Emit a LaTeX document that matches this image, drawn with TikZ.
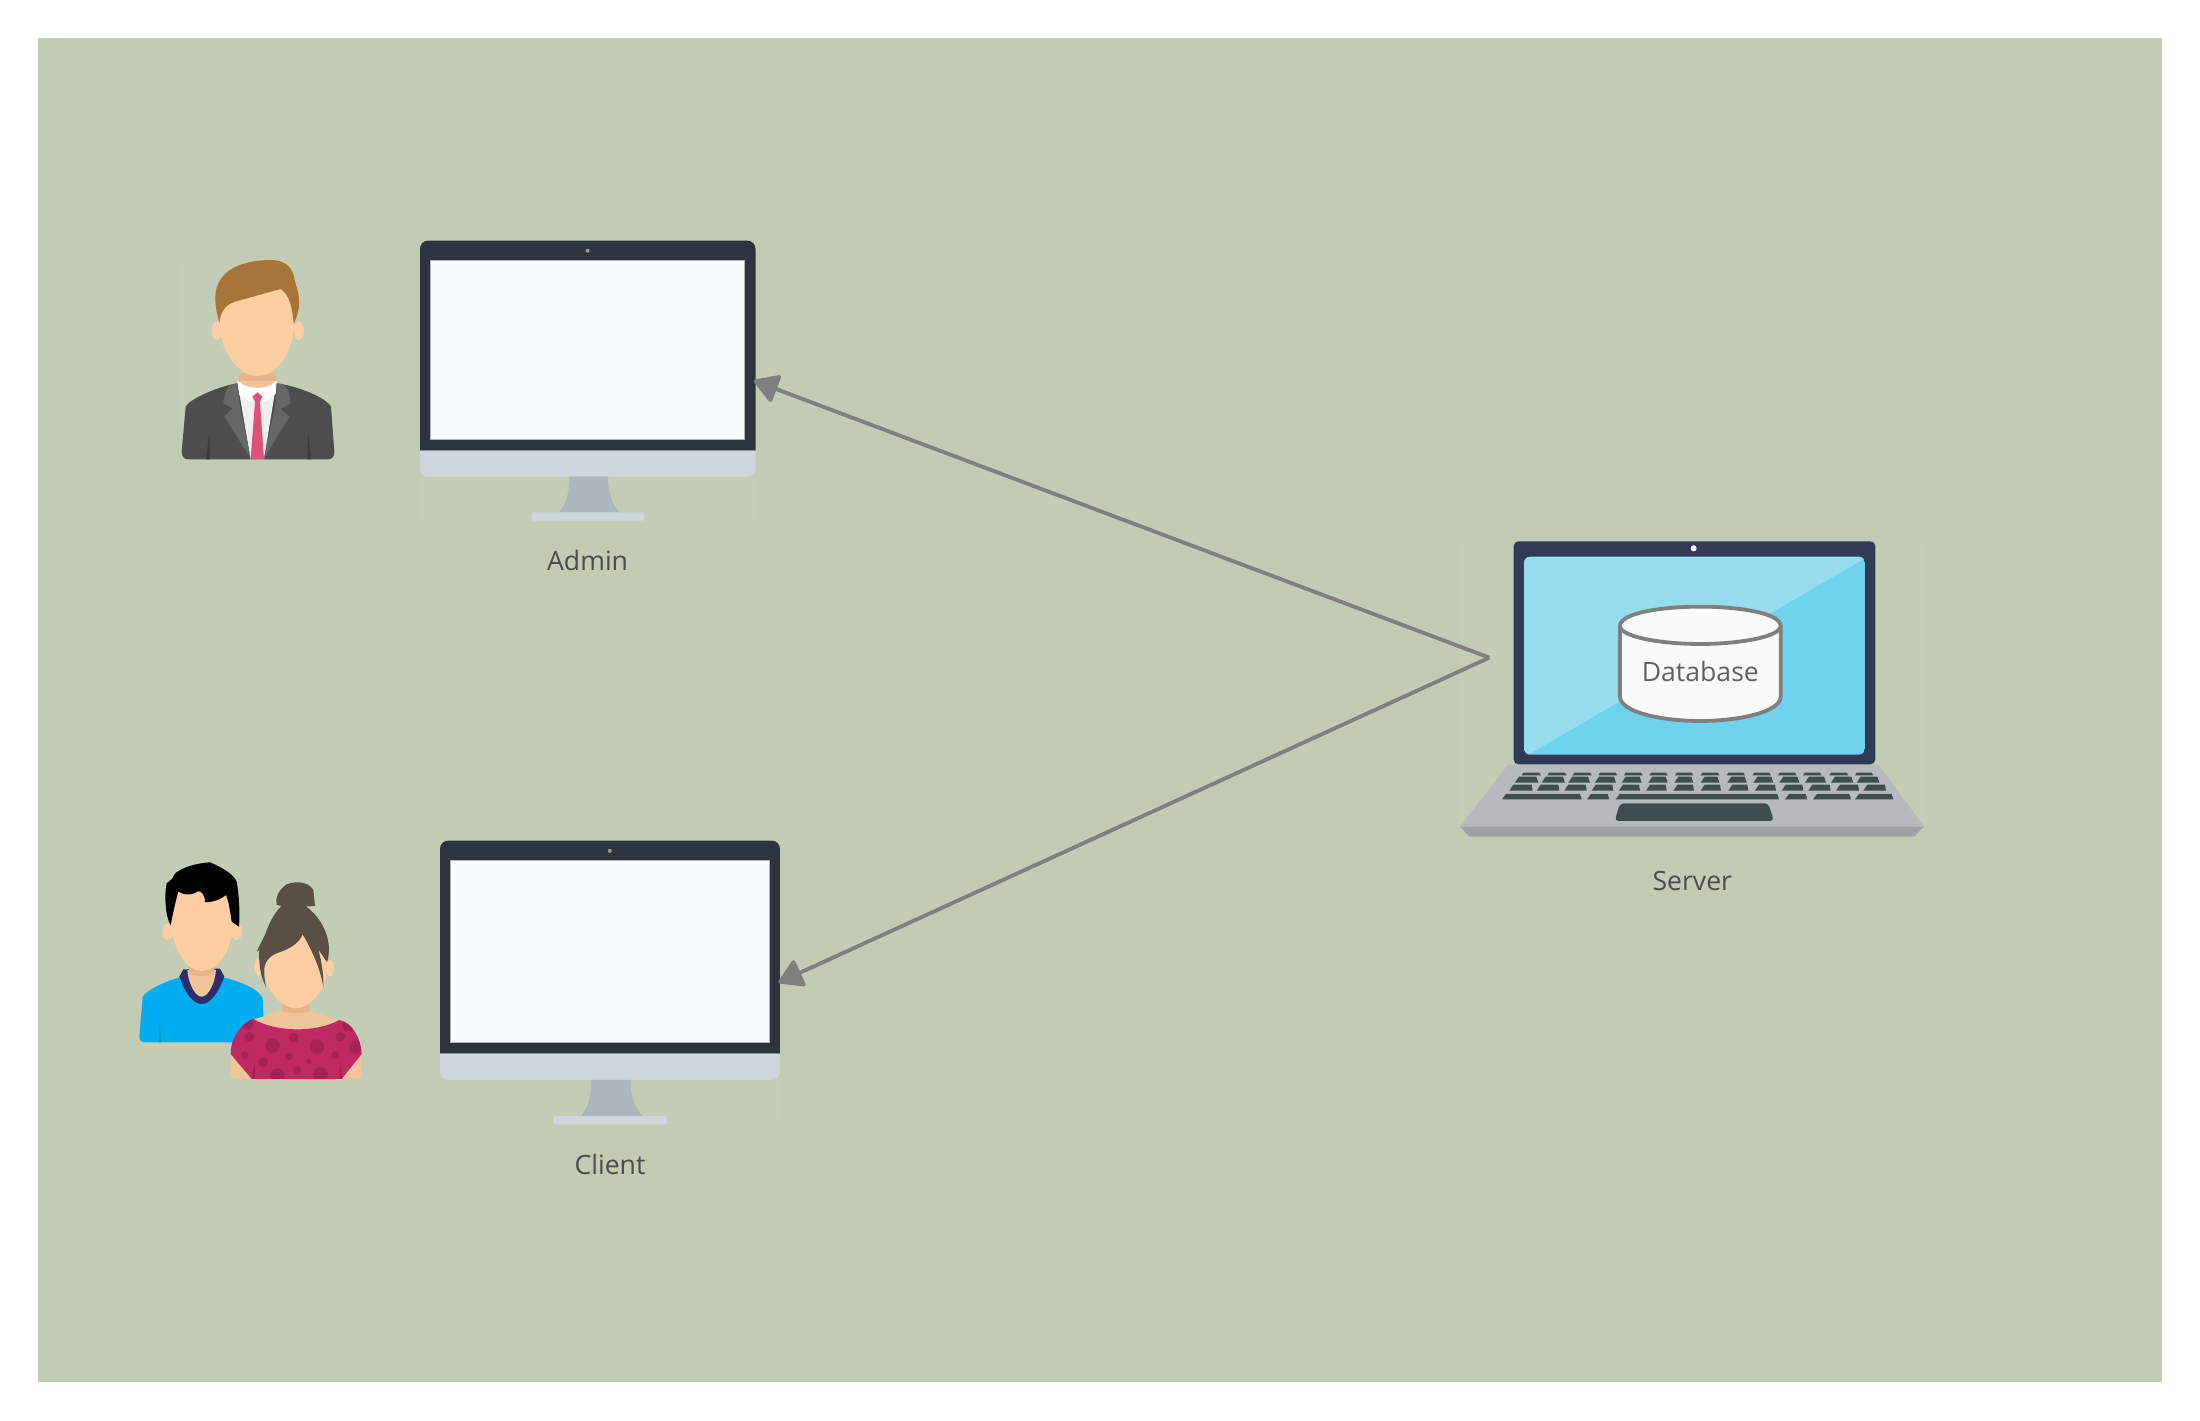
\documentclass[tikz,border=0pt]{standalone}
\usepackage{fontspec}
\setmainfont{Open Sans}
\usepackage{tikz}
\usetikzlibrary{arrows.meta}

\definecolor{panelgreen}{HTML}{C2CCB4}
\definecolor{bezel}{HTML}{2D3440}
\definecolor{chin}{HTML}{D0D6E0}
\definecolor{glass}{HTML}{F7FDFE}
\definecolor{standgrey}{HTML}{ADB5BF}
\definecolor{skin}{HTML}{FCCEA1}
\definecolor{skinshade}{HTML}{E8B487}
\definecolor{skinlow}{HTML}{F0C59A}
\definecolor{linkgrey}{HTML}{7F7F7F}
\definecolor{keycap}{HTML}{3F4C50}
\definecolor{suit}{HTML}{4D4D4D}
\definecolor{suitdark}{HTML}{3A3A3A}
\definecolor{lapel}{HTML}{666868}
\definecolor{shirt}{HTML}{ECF1EF}
\definecolor{tie}{HTML}{E0507C}
\definecolor{hairbrown}{HTML}{A7743A}
\definecolor{tee}{HTML}{00AEEF}
\definecolor{teedark}{HTML}{1A94B9}
\definecolor{collar}{HTML}{2B2F6F}
\definecolor{blouse}{HTML}{C02A63}
\definecolor{blousedot}{HTML}{A62155}
\definecolor{hairgrey}{HTML}{594F45}
\definecolor{lid}{HTML}{333B54}
\definecolor{screenlow}{HTML}{6FD3EC}
\definecolor{screenhigh}{HTML}{97DBEF}
\definecolor{deck}{HTML}{B6BABD}
\definecolor{deckedge}{HTML}{9BA3A7}

\tikzset{
    caption/.style={font=\fontsize{6.65pt}{8pt}\selectfont,text=black!70,inner sep=0pt},
    iconback/.style={white,opacity=.02},
    link/.style={draw=linkgrey,line width=.95pt,line join=round,
        -{Triangle[length=6.5pt,width=7.6pt,fill=linkgrey,round]}},
    pics/monitor/.style={code={
        \fill[iconback] (0,0) rectangle (335.5,280);
        \fill[bezel] (0,210) -- (0,8) arc[start angle=180,end angle=270,radius=8]
            -- (327.5,0) arc[start angle=270,end angle=360,radius=8] -- (335.5,210) -- cycle;
        \fill[chin] (0,210) -- (335.5,210) -- (335.5,228) arc[start angle=0,end angle=90,radius=8]
            -- (8,236) arc[start angle=90,end angle=180,radius=8] -- cycle;
        \fill[standgrey] (149.5,236) .. controls (149.5,250) and (147,262) .. (139,272)
            -- (199.6,272) .. controls (191,262) and (188,250) .. (188,236) -- cycle;
        \fill[chin,rounded corners=.6pt] (111.6,271.7) rectangle (224,280);
        \filldraw[fill=glass,draw=gray!60,line width=.15pt] (10,19.3) rectangle (324.5,198.7);
        \fill[gray!80] (167.6,10) circle (2);
        \coordinate (-east) at (334,140);
    }},
}

\begin{document}
\begin{tikzpicture}[x=.25pt,y=-.25pt]
    \useasboundingbox (0,0) rectangle (2200,1421);
    \fill[white] (0,0) rectangle (2200,1421);
    \fill[panelgreen] (38,38) rectangle (2162,1382);

    \pic (adminmon) at (420,240.7) {monitor};
    \pic (clientmon) [scale=1.0134] at (440,840.7) {monitor};
    \node[caption] (adminlabel) at (587.6,560.5) {Admin};
    \node[caption] (clientlabel) at (610,1165) {Client};

    % man in suit
    \begin{scope}[shift={(160,240)},scale=1/3]
        \fill[iconback] (60,60) rectangle (525,660);
        \fill[suit] (65,635) -- (77,500) .. controls (85,480) and (170,440) .. (232,430)
            -- (352,430) .. controls (420,440) and (500,475) .. (513,500) -- (523,635)
            .. controls (524,650) and (515,658) .. (505,658) -- (85,658)
            .. controls (72,658) and (65,650) .. (65,635) -- cycle;
        \fill[suitdark] (148,580) -- (138,658) -- (150,658) -- cycle;
        \fill[suitdark] (445,580) -- (442,658) -- (453,658) -- cycle;
        \fill[skinshade] (242,400) -- (345,400) -- (350,425) -- (232,425) -- cycle;
        \fill[shirt] (232,425) -- (272,658) -- (312,658) -- (350,425) -- cycle;
        \fill[white] (232,422) .. controls (250,445) and (335,445) .. (350,422)
            -- (347,462) -- (315,485) -- (292,468) -- (270,485) -- (238,465) -- cycle;
        \fill[skinlow] (240,425) .. controls (255,450) and (330,450) .. (343,425) -- cycle;
        \fill[lapel] (232,430) .. controls (210,432) and (197,436) .. (190,490) -- (218,505)
            -- (193,530) -- (272,655) -- (240,500) -- cycle;
        \fill[lapel] (351,430) .. controls (375,432) and (388,440) .. (392,490) -- (362,507)
            -- (388,530) -- (312,655) -- (345,500) -- cycle;
        \fill[tie] (277,470) -- (292,457) -- (307,470) -- (300,485)
            -- (312,658) -- (272,658) -- (285,485) -- cycle;
        \fill[skin] (170,272) ellipse [x radius=15,y radius=28];
        \fill[skin] (417,272) ellipse [x radius=15,y radius=28];
        \fill[skin] (178,180) -- (178,250) .. controls (180,340) and (240,408) .. (292,408)
            .. controls (350,408) and (400,340) .. (403,250) -- (403,180) -- (370,130) -- cycle;
        \fill[hairbrown] (178,248) .. controls (165,200) and (160,160) .. (175,130)
            .. controls (195,90) and (240,62) .. (330,60) .. controls (380,60) and (400,85) .. (405,125)
            .. controls (420,170) and (425,200) .. (401,252) .. controls (398,210) and (390,165) .. (362,147)
            -- (225,185) .. controls (195,195) and (182,215) .. (178,248) -- cycle;
    \end{scope}

    % couple
    \begin{scope}[shift={(130,850)},scale=1/3]
        \fill[iconback] (28,28) rectangle (695,690);
        \fill[tee] (28,560) -- (38,440) .. controls (50,420) and (110,392) .. (150,382)
            -- (280,382) .. controls (330,395) and (385,415) .. (398,445) -- (404,577)
            -- (45,577) .. controls (33,577) and (28,570) .. (28,560) -- cycle;
        \fill[teedark] (90,520) -- (85,577) -- (93,577) -- cycle;
        \fill[collar] (160,358) -- (148,380) .. controls (165,430) and (190,462) .. (215,462)
            .. controls (240,462) and (265,430) .. (283,380) -- (270,356) -- cycle;
        \fill[skinlow] (172,360) .. controls (175,400) and (195,440) .. (215,440)
            .. controls (235,440) and (255,400) .. (258,360) -- cycle;
        \fill[skinshade] (175,350) -- (255,350) -- (250,372) .. controls (235,380) and (195,380) .. (180,372) -- cycle;
        \fill[skin] (113,245) ellipse [x radius=16,y radius=25];
        \fill[skin] (320,245) ellipse [x radius=16,y radius=25];
        \fill[skin] (125,120) -- (125,240) .. controls (135,310) and (175,363) .. (215,363)
            .. controls (260,363) and (300,310) .. (308,240) -- (305,120) -- cycle;
        \fill[black] (122,225) .. controls (105,200) and (103,130) .. (110,100) -- (128,85)
            .. controls (130,60) and (190,40) .. (240,37) .. controls (270,50) and (310,70) .. (320,95)
            .. controls (328,140) and (330,190) .. (327,230) -- (305,215)
            .. controls (300,180) and (295,150) .. (288,135) .. controls (270,150) and (245,157) .. (225,157)
            .. controls (225,135) and (215,122) .. (203,124) .. controls (195,132) and (170,140) .. (145,125)
            .. controls (135,160) and (128,195) .. (122,225) -- cycle;

        \fill[skinlow,rounded corners=1.5pt] (302,590) -- (302,687) -- (695,687) -- (695,590) -- cycle;
        \fill[skinlow] (365,510) -- (455,483) -- (540,483) -- (630,512) -- (630,560) -- (365,560) -- cycle;
        \fill[skinshade] (460,462) -- (535,462) -- (540,483) .. controls (515,492) and (480,492) .. (455,483) -- cycle;
        \def\blousepath{(370,507) .. controls (440,548) and (560,548) .. (628,510)
            .. controls (665,520) and (690,555) .. (695,612) -- (635,687) -- (365,687)
            -- (302,612) .. controls (300,570) and (330,520) .. (370,507) -- cycle}
        \fill[blouse] \blousepath;
        \begin{scope}
            \clip \blousepath;
            \foreach \cx/\cy/\r in {358/560/15,428/587/22,491/563/15,561/590/22,631/560/15,344/615/12,
                399/637/15,477/619/12,616/615/12,536/634/8,501/661/12,442/677/22,572/673/22,678/592/20,
                352/522/18,655/525/18}
                \fill[blousedot] (\cx,\cy) circle (\r);
        \end{scope}
        \fill[blousedot] (375,630) -- (365,687) -- (375,687) -- cycle;
        \fill[blousedot] (630,630) -- (628,687) -- (637,687) -- cycle;
        \fill[skin] (385,352) ellipse [x radius=12,y radius=25];
        \fill[skin] (600,355) ellipse [x radius=12,y radius=25];
        \fill[skin] (403,300) -- (403,370) .. controls (410,420) and (455,475) .. (497,475)
            .. controls (540,475) and (585,420) .. (590,370) -- (590,290) -- (518,240) -- cycle;
        \fill[hairgrey] (408,412) .. controls (395,385) and (385,350) .. (388,300)
            -- (380,305) -- (405,255) .. controls (420,210) and (440,180) .. (462,160)
            -- (515,160) .. controls (560,190) and (590,230) .. (597,290)
            .. controls (597,320) and (592,340) .. (590,335) -- (565,298)
            .. controls (575,335) and (582,380) .. (580,410)
            .. controls (570,350) and (540,290) .. (518,253)
            .. controls (505,285) and (470,300) .. (440,310) .. controls (415,320) and (400,340) .. (403,370)
            .. controls (403,385) and (405,400) .. (408,412) -- cycle;
        \fill[hairgrey] (440,165) .. controls (435,145) and (445,120) .. (470,103)
            .. controls (500,92) and (535,95) .. (550,120) -- (555,167)
            .. controls (520,172) and (470,172) .. (440,165) -- cycle;
    \end{scope}

    % laptop
    \begin{scope}[shift={(1440,520)},scale=1/3]
        \fill[iconback] (60,60) rectangle (1452,955);
        \fill[deck] (205,733) -- (1315,733) -- (1452,920) -- (60,920) -- cycle;
        \fill[deckedge] (60,920) -- (1452,920) -- (1422,950) -- (88,950) -- cycle;
        \fill[lid,rounded corners=1.2pt] (221,64) rectangle (1306,733);
        \fill[white] (761,85) circle (9);
        \begin{scope}
            \clip[rounded corners=1.6pt] (252,110) rectangle (1275,704);
            \fill[screenlow] (252,110) rectangle (1275,704);
            \fill[screenhigh] (252,110) -- (1275,110) -- (1275,115) -- (265,704) -- (252,704) -- cycle;
        \end{scope}
        \foreach \a/\b in {245/303,322/380,398/455,475/532,552/608,628/683,705/760,782/838,860/915,938/993,
            1014/1070,1089/1145,1168/1225,1245/1300}
            \fill[keycap] (\a,766) -- (\a+5,758) -- (\b-5,758) -- (\b,766) -- cycle;
        \foreach \a/\b in {225/295,305/375,385/450,465/528,545/605,625/683,703/760,782/838,862/920,940/1000,
            1018/1078,1095/1158,1173/1240,1250/1318}
            \fill[keycap] (\a,788) -- (\a+12,770) -- (\b-6,770) -- (\b,788) -- cycle;
        \foreach \a/\b in {208/278,290/358,373/440,455/520,537/600,618/680,700/762,782/843,865/925,945/1008,
            1025/1090,1105/1172,1188/1257,1270/1338}
            \fill[keycap] (\a,812) -- (\a+12,794) -- (\b-3,794) -- (\b,812) -- cycle;
        \foreach \a/\b in {186/425,441/508,527/1017,1035/1102,1119/1233,1245/1360}
            \fill[keycap] (\a,838) -- (\a+12,822) -- (\b-5,822) -- (\b,838) -- cycle;
        \fill[keycap,rounded corners=1pt] (524,903) -- (540,850) -- (985,850) -- (1002,903) -- cycle;
        \filldraw[fill=white!98!black,draw=linkgrey,line width=.95pt]
            (540,318) .. controls (540,280) and (660,260) .. (781,260) .. controls (900,260) and (1022,280) .. (1022,318)
            -- (1022,530) .. controls (1022,575) and (900,603) .. (781,603) .. controls (660,603) and (540,575) .. (540,530) -- cycle;
        \draw[draw=linkgrey,line width=.95pt] (540,318) .. controls (540,350) and (660,372) .. (781,372)
            .. controls (900,372) and (1022,350) .. (1022,318);
        \node[caption,text=black!62] (database) at (781,454) {Database};
        \node[caption] (serverlabel) at (757,1082) {Server};
        \coordinate (fork) at (148,413);
    \end{scope}

    \draw[link] (fork) -- (adminmon-east);
    \draw[link] (fork) -- (clientmon-east);
\end{tikzpicture}
\end{document}
